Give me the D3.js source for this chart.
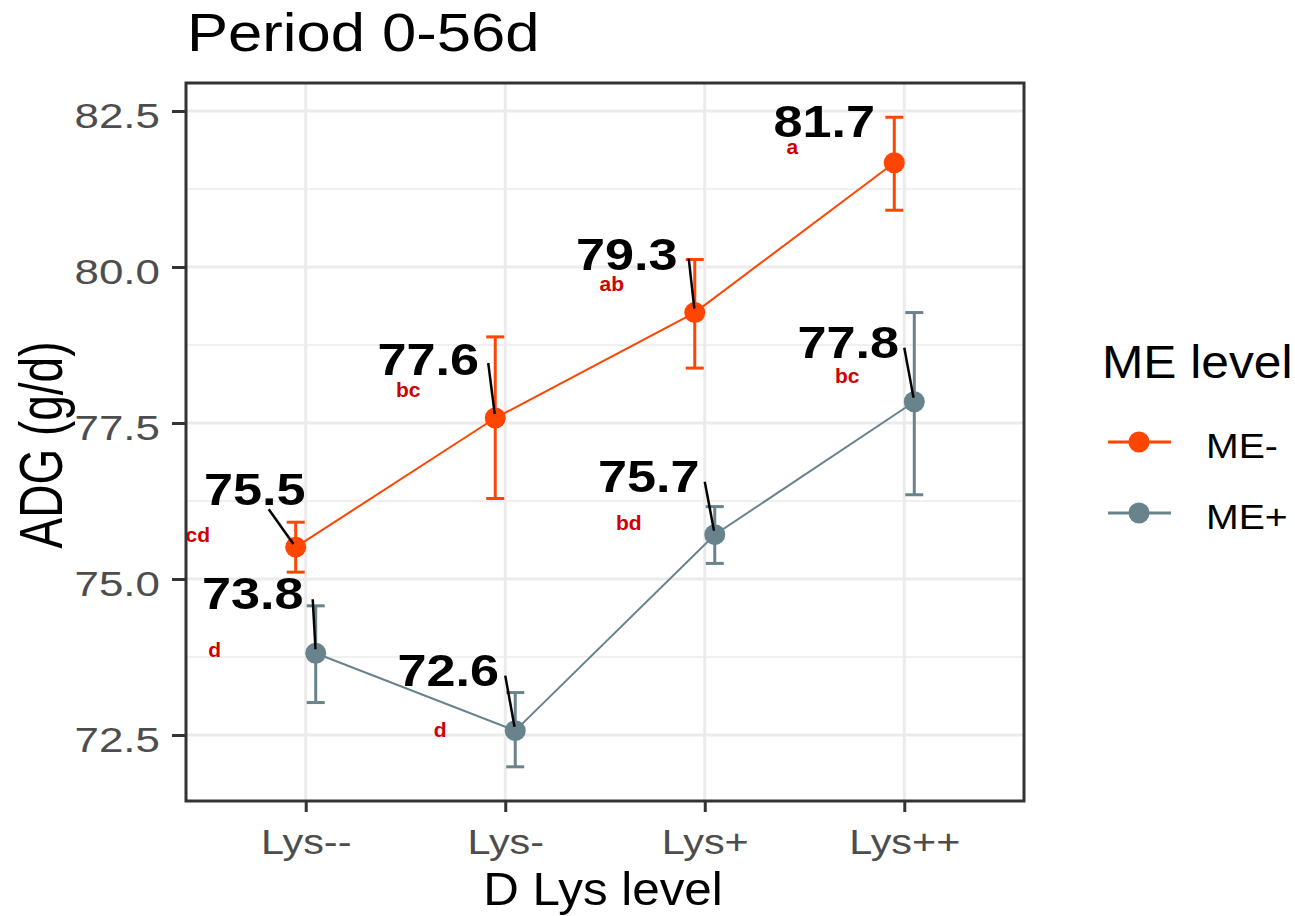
<!DOCTYPE html>
<meta charset="utf-8" />
<head>
<title>Period 0-56d</title>
<script src="https://d3js.org/d3.v7.min.js"></script>
<style>
  body { margin: 0; background: #fff; }
  text { font-family: "Liberation Sans", Arial, sans-serif; }
</style>
</head>
<body>
<script>

// data
var lysLevels = ["Lys--", "Lys-", "Lys+", "Lys++"];
var meLevels = ["ME-", "ME+"];
var meMinus = [75.51, 77.58, 79.27, 81.67];
var meMinusLow = [75.11, 76.29, 78.38, 80.91];
var meMinusHigh = [75.91, 78.88, 80.12, 82.40];
var mePlus = [73.81, 72.57, 75.71, 77.84];
var mePlusLow = [73.02, 71.99, 75.25, 76.35];
var mePlusHigh = [74.57, 73.18, 76.16, 79.27];
var meMinusLetters = ["cd", "bc", "ab", "a"];
var mePlusLetters = ["d", "d", "bd", "bc"];
var yTicks = [72.5, 75, 77.5, 80, 82.5];
var yMinor = [73.75, 76.25, 78.75, 81.25];
var colors = ["#FF4500", "#68838B"];

// repelled label layout, pixel nudges from each point
var valueNudge = [
  [[-41, -42], [-67, -43], [-68, -43], [-70, -26]],
  [[-63, -44], [-67, -45], [-66, -43], [-66, -44]]
];
var segStart = [
  [[-27, -38], [-7, -55], [-6, -54], null],
  [[-3, -54], [-10, -55], [-10, -53], [-10, -54]]
];
var letterNudge = [
  [[-98, -5], [-87, -21], [-83, -22], [-102, -9]],
  [[-101, 4], [-75, 6], [-86, -5], [-67, -19]]
];

var W = 1295, H = 916;
var panel = {left: 186, right: 1024, top: 83, bottom: 801};
var dodge = [-10, 10];

var svg = d3.select("body").append("svg")
    .attr("width", W)
    .attr("height", H);

var x = d3.scalePoint().domain(lysLevels)
    .range([panel.left, panel.right]).padding(0.6);
var y = d3.scaleLinear().domain([72.5, 82.5]).range([735, 111]);

// build series
var series = meLevels.map(function(me, i) {
  var m = i == 0 ? meMinus : mePlus;
  var lo = i == 0 ? meMinusLow : mePlusLow;
  var hi = i == 0 ? meMinusHigh : mePlusHigh;
  var let = i == 0 ? meMinusLetters : mePlusLetters;
  return {
    name: me, color: colors[i],
    values: lysLevels.map(function(l, j) {
      return {lys: l, idx: j, mean: m[j], lo: lo[j], hi: hi[j], letter: let[j], g: i};
    })
  };
});
function px(d) { return x(d.lys) + dodge[d.g]; }

// panel background + grid
svg.append("rect")
    .attr("x", panel.left).attr("y", panel.top)
    .attr("width", panel.right - panel.left)
    .attr("height", panel.bottom - panel.top)
    .attr("fill", "#fff");

svg.append("g").selectAll("line").data(yMinor).enter().append("line")
    .attr("x1", panel.left).attr("x2", panel.right)
    .attr("y1", function(d) { return y(d); }).attr("y2", function(d) { return y(d); })
    .attr("stroke", "#EBEBEB").attr("stroke-width", 1.5);

svg.append("g").selectAll("line").data(yTicks).enter().append("line")
    .attr("x1", panel.left).attr("x2", panel.right)
    .attr("y1", function(d) { return y(d); }).attr("y2", function(d) { return y(d); })
    .attr("stroke", "#EBEBEB").attr("stroke-width", 3);

svg.append("g").selectAll("line").data(lysLevels).enter().append("line")
    .attr("y1", panel.top).attr("y2", panel.bottom)
    .attr("x1", function(d) { return x(d); }).attr("x2", function(d) { return x(d); })
    .attr("stroke", "#EBEBEB").attr("stroke-width", 3);

// error bars
var eb = svg.append("g").selectAll("g")
    .data(d3.merge(series.map(function(s) { return s.values; })))
    .enter().append("g")
    .attr("stroke", function(d) { return colors[d.g]; })
    .attr("stroke-width", 3);
eb.append("line")
    .attr("x1", px).attr("x2", px)
    .attr("y1", function(d) { return y(d.lo); }).attr("y2", function(d) { return y(d.hi); });
eb.append("line")
    .attr("x1", function(d) { return px(d) - 9; }).attr("x2", function(d) { return px(d) + 9; })
    .attr("y1", function(d) { return y(d.lo); }).attr("y2", function(d) { return y(d.lo); });
eb.append("line")
    .attr("x1", function(d) { return px(d) - 9; }).attr("x2", function(d) { return px(d) + 9; })
    .attr("y1", function(d) { return y(d.hi); }).attr("y2", function(d) { return y(d.hi); });

// lines
var line = d3.line().x(px).y(function(d) { return y(d.mean); });
svg.append("g").selectAll("path").data(series).enter().append("path")
    .attr("d", function(s) { return line(s.values); })
    .attr("fill", "none")
    .attr("stroke", function(s) { return s.color; })
    .attr("stroke-width", 2);

// points
svg.append("g").selectAll("circle")
    .data(d3.merge(series.map(function(s) { return s.values; })))
    .enter().append("circle")
    .attr("cx", px).attr("cy", function(d) { return y(d.mean); })
    .attr("r", 10.5)
    .attr("fill", function(d) { return colors[d.g]; });

// label segments
var allPts = d3.merge(series.map(function(s) { return s.values; }));
svg.append("g").selectAll("line")
    .data(allPts.filter(function(d) { return segStart[d.g][d.idx]; }))
    .enter().append("line")
    .attr("x1", function(d) { return px(d) + segStart[d.g][d.idx][0]; })
    .attr("y1", function(d) { return y(d.mean) + segStart[d.g][d.idx][1]; })
    .attr("x2", function(d) {
      var s = segStart[d.g][d.idx], len = Math.hypot(s[0], s[1]);
      return px(d) + s[0] * 4 / len;
    })
    .attr("y2", function(d) {
      var s = segStart[d.g][d.idx], len = Math.hypot(s[0], s[1]);
      return y(d.mean) + s[1] * 4 / len;
    })
    .attr("stroke", "#000").attr("stroke-width", 2.5);

// value labels
svg.append("g").selectAll("text").data(allPts).enter().append("text")
    .attr("transform", function(d) {
      var n = valueNudge[d.g][d.idx];
      return "translate(" + (px(d) + n[0]) + "," + (y(d.mean) + n[1]) + ") scale(1.16,1)";
    })
    .attr("text-anchor", "middle")
    .style("font-size", "45px")
    .style("font-weight", "bold")
    .attr("fill", "#000")
    .text(function(d) { return d3.format(".1f")(d.mean); });

// significance letters
svg.append("g").selectAll("text").data(allPts).enter().append("text")
    .attr("x", function(d) { return px(d) + letterNudge[d.g][d.idx][0]; })
    .attr("y", function(d) { return y(d.mean) + letterNudge[d.g][d.idx][1]; })
    .attr("text-anchor", "middle")
    .style("font-size", "21px")
    .style("font-weight", "bold")
    .attr("fill", "#D00000")
    .text(function(d) { return d.letter; });

// panel border
svg.append("rect")
    .attr("x", panel.left).attr("y", panel.top)
    .attr("width", panel.right - panel.left)
    .attr("height", panel.bottom - panel.top)
    .attr("fill", "none")
    .attr("stroke", "#333333").attr("stroke-width", 3);

// y axis
var yAxis = svg.append("g")
    .attr("transform", "translate(" + panel.left + ",0)")
    .call(d3.axisLeft(y).tickValues(yTicks).tickFormat(d3.format(".1f")).tickSize(14));
yAxis.select(".domain").remove();
yAxis.selectAll("line").attr("stroke", "#333333").attr("stroke-width", 3);
yAxis.selectAll("text")
    .attr("x", null).attr("dy", "0.46em")
    .attr("transform", "translate(-26,0) scale(1.22,1)")
    .attr("fill", "#4D4D4D")
    .style("font-size", "36px")
    .style("font-family", "'Liberation Sans', Arial, sans-serif");

// x axis
var xAxis = svg.append("g")
    .attr("transform", "translate(0," + panel.bottom + ")")
    .call(d3.axisBottom(x).tickSize(11));
xAxis.select(".domain").remove();
xAxis.selectAll("line").attr("stroke", "#333333").attr("stroke-width", 3);
xAxis.selectAll("text")
    .attr("y", null).attr("dy", null)
    .attr("transform", "translate(0,53) scale(1.15,1)")
    .attr("fill", "#4D4D4D")
    .style("font-size", "36px")
    .style("font-family", "'Liberation Sans', Arial, sans-serif");

// titles
svg.append("text")
    .attr("transform", "translate(187,51) scale(1.14,1)")
    .style("font-size", "54px")
    .attr("fill", "#000")
    .text("Period 0-56d");

svg.append("text")
    .attr("transform", "translate(603,905) scale(1.05,1)")
    .attr("text-anchor", "middle")
    .style("font-size", "47px")
    .attr("fill", "#000")
    .text("D Lys level");

svg.append("text")
    .attr("transform", "translate(62,445) rotate(-90) scale(1,1.34)")
    .attr("text-anchor", "middle")
    .style("font-size", "46px")
    .attr("fill", "#000")
    .text("ADG (g/d)");

// legend
var legend = svg.append("g");
legend.append("text")
    .attr("transform", "translate(1102,378) scale(1.08,1)")
    .style("font-size", "46px")
    .attr("fill", "#000")
    .text("ME level");

var keyY = [442, 513];
var item = legend.selectAll("g.key").data(series).enter().append("g")
    .attr("class", "key")
    .attr("transform", function(s, i) { return "translate(0," + keyY[i] + ")"; });
item.append("line")
    .attr("x1", 1108).attr("x2", 1171)
    .attr("stroke", function(s) { return s.color; })
    .attr("stroke-width", 3);
item.append("circle")
    .attr("cx", 1139).attr("r", 10.5)
    .attr("fill", function(s) { return s.color; });
item.append("text")
    .attr("transform", "translate(1206,16) scale(1.09,1)")
    .style("font-size", "36px")
    .attr("fill", "#000")
    .text(function(s) { return s.name; });

</script>
</body>
